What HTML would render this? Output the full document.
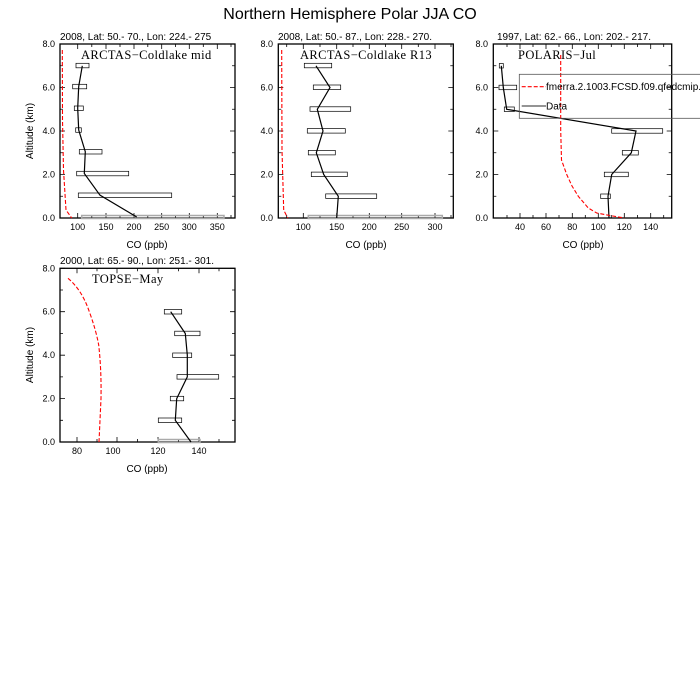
<!DOCTYPE html>
<html><head><meta charset="utf-8"><style>
body{margin:0;background:#fff}
svg{display:block;font-family:"Liberation Sans",sans-serif}
.t{font-size:9px;fill:#000}
.s{font-size:10px}
.p{font-family:"Liberation Serif",serif;font-size:12.5px;letter-spacing:0.4px}
.fr{fill:none;stroke:#000;stroke-width:1.3}
.bx{fill:none;stroke:#000;stroke-width:0.7}
.gb{fill:none;stroke:#aaa;stroke-width:1.5}
.ln{fill:none;stroke:#000;stroke-width:1.2}
.rd{fill:none;stroke:#f00;stroke-width:1.1;stroke-dasharray:4,2}
.tk{stroke:#000;stroke-width:0.8}
</style></head><body>
<svg width="700" height="700" viewBox="0 0 700 700">
<text x="350" y="19" text-anchor="middle" font-size="16">Northern Hemisphere Polar JJA CO</text>

<!-- Panel 1 -->
<g>
<text x="60" y="40" class="s">2008, Lat:  50.- 70., Lon: 224.- 275</text>
<rect x="60" y="44" width="175" height="174" class="fr"/>
<path class="tk" d="M60 44h5M60 65.75h3M60 87.5h5M60 109.25h3M60 131h5M60 152.75h3M60 174.5h5M60 196.25h3M235 44h-5M235 65.75h-3M235 87.5h-5M235 109.25h-3M235 131h-5M235 152.75h-3M235 174.5h-5M235 196.25h-3M77.7 218v-5M106 218v-5M134 218v-5M161.7 218v-5M189.3 218v-5M217.3 218v-5M77.7 44v5M106 44v5M134 44v5M161.7 44v5M189.3 44v5M217.3 44v5M91.8 218v-3M120 218v-3M147.8 218v-3M175.5 218v-3M203.3 218v-3M231 218v-3M91.8 44v3M120 44v3M147.8 44v3M175.5 44v3M203.3 44v3M231 44v3"/>
<g class="t" text-anchor="end"><text x="55" y="47">8.0</text><text x="55" y="90.5">6.0</text><text x="55" y="134">4.0</text><text x="55" y="177.5">2.0</text><text x="55" y="221">0.0</text></g>
<g class="t" text-anchor="middle"><text x="77.7" y="230">100</text><text x="106" y="230">150</text><text x="134" y="230">200</text><text x="161.7" y="230">250</text><text x="189.3" y="230">300</text><text x="217.3" y="230">350</text></g>
<text x="147" y="248" text-anchor="middle" font-size="10">CO (ppb)</text>
<text transform="translate(33,131) rotate(-90)" text-anchor="middle" font-size="10">Altitude (km)</text>
<text x="81" y="59" class="p">ARCTAS−Coldlake mid</text>
<rect x="76" y="63.3" width="13" height="4.5" class="bx"/>
<rect x="72.7" y="84.3" width="14" height="4.5" class="bx"/>
<rect x="74.3" y="106" width="9" height="4.5" class="bx"/>
<rect x="75.7" y="127.8" width="5.6" height="4.5" class="bx"/>
<rect x="79.3" y="149.5" width="22.7" height="4.5" class="bx"/>
<rect x="76.7" y="171.3" width="52" height="4.5" class="bx"/>
<rect x="78.3" y="193" width="93.4" height="4.5" class="bx"/>
<rect x="81.7" y="215.5" width="142.3" height="3" class="gb"/>
<polyline class="ln" points="82.3,65.8 78.7,86.5 77.7,108.2 78.7,130 85.3,151.7 84.3,173.5 100,195.2 136.7,217"/>
<polyline class="rd" points="62.3,50 62.5,120 63.5,170 66,210 71.7,218"/>
</g>

<!-- Panel 2 -->
<g>
<text x="278" y="40" class="s">2008, Lat:  50.- 87., Lon: 228.- 270.</text>
<rect x="278.3" y="44" width="175" height="174" class="fr"/>
<path class="tk" d="M278.3 44h5M278.3 65.75h3M278.3 87.5h5M278.3 109.25h3M278.3 131h5M278.3 152.75h3M278.3 174.5h5M278.3 196.25h3M453.3 44h-5M453.3 65.75h-3M453.3 87.5h-5M453.3 109.25h-3M453.3 131h-5M453.3 152.75h-3M453.3 174.5h-5M453.3 196.25h-3M303.3 218v-5M336.7 218v-5M369.3 218v-5M401.7 218v-5M435 218v-5M303.3 44v5M336.7 44v5M369.3 44v5M401.7 44v5M435 44v5M286.7 218v-3M320 218v-3M353 218v-3M385.5 218v-3M418.3 218v-3M451 218v-3M286.7 44v3M320 44v3M353 44v3M385.5 44v3M418.3 44v3M451 44v3"/>
<g class="t" text-anchor="end"><text x="273" y="47">8.0</text><text x="273" y="90.5">6.0</text><text x="273" y="134">4.0</text><text x="273" y="177.5">2.0</text><text x="273" y="221">0.0</text></g>
<g class="t" text-anchor="middle"><text x="303.3" y="230">100</text><text x="336.7" y="230">150</text><text x="369.3" y="230">200</text><text x="401.7" y="230">250</text><text x="435" y="230">300</text></g>
<text x="366" y="248" text-anchor="middle" font-size="10">CO (ppb)</text>
<text x="300" y="59" class="p">ARCTAS−Coldlake R13</text>
<rect x="304.3" y="63.3" width="27.4" height="4.5" class="bx"/>
<rect x="313.3" y="85" width="27.4" height="4.5" class="bx"/>
<rect x="310" y="106.8" width="40.7" height="4.5" class="bx"/>
<rect x="307.3" y="128.6" width="38" height="4.5" class="bx"/>
<rect x="308.3" y="150.4" width="27" height="4.5" class="bx"/>
<rect x="311.3" y="172.1" width="36" height="4.5" class="bx"/>
<rect x="325.7" y="193.9" width="51" height="4.5" class="bx"/>
<rect x="308.3" y="215.5" width="134" height="3" class="gb"/>
<polyline class="ln" points="316,65.8 330,87.5 317.3,109.3 323,131 316.3,152.8 323.7,174.5 338.3,196.3 336.7,218"/>
<polyline class="rd" points="281.7,50 282,150 283.7,210 287.7,218"/>
</g>

<!-- Panel 3 -->
<g>
<text x="497" y="40" class="s">1997, Lat: 62.- 66., Lon: 202.- 217.</text>
<rect x="493.3" y="44" width="178.4" height="174" class="fr"/>
<path class="tk" d="M493.3 44h5M493.3 65.75h3M493.3 87.5h5M493.3 109.25h3M493.3 131h5M493.3 152.75h3M493.3 174.5h5M493.3 196.25h3M671.7 44h-5M671.7 65.75h-3M671.7 87.5h-5M671.7 109.25h-3M671.7 131h-5M671.7 152.75h-3M671.7 174.5h-5M671.7 196.25h-3M520 218v-5M546 218v-5M572.3 218v-5M598.3 218v-5M624.3 218v-5M650.7 218v-5M520 44v5M546 44v5M572.3 44v5M598.3 44v5M624.3 44v5M650.7 44v5M507 218v-3M533 218v-3M559 218v-3M585.3 218v-3M611.3 218v-3M637.5 218v-3M663.7 218v-3M507 44v3M533 44v3M559 44v3M585.3 44v3M611.3 44v3M637.5 44v3M663.7 44v3"/>
<g class="t" text-anchor="end"><text x="488" y="47">8.0</text><text x="488" y="90.5">6.0</text><text x="488" y="134">4.0</text><text x="488" y="177.5">2.0</text><text x="488" y="221">0.0</text></g>
<g class="t" text-anchor="middle"><text x="520" y="230">40</text><text x="546" y="230">60</text><text x="572.3" y="230">80</text><text x="598.3" y="230">100</text><text x="624.3" y="230">120</text><text x="650.7" y="230">140</text></g>
<text x="583" y="248" text-anchor="middle" font-size="10">CO (ppb)</text>
<text x="518" y="59" class="p">POLARIS−Jul</text>
<rect x="499.3" y="63.5" width="4" height="4.5" class="bx"/>
<rect x="499" y="85.2" width="17.7" height="4.5" class="bx"/>
<rect x="504.3" y="107" width="10" height="4.5" class="bx"/>
<rect x="611.7" y="128.7" width="51" height="4.5" class="bx"/>
<rect x="622.3" y="150.5" width="16" height="4.5" class="bx"/>
<rect x="604.3" y="172.2" width="24" height="4.5" class="bx"/>
<rect x="600.7" y="194" width="9.6" height="4.5" class="bx"/>
<polyline class="ln" points="501.3,65.8 503.3,87.5 506.7,109.3 636,131 631.3,152.8 611.7,174.5 608,196.3 609,218"/>
<polyline class="rd" points="560.7,55 560.7,130 561.5,160 566.7,174.5 572,186 578.3,196.3 588.3,208 596.7,213 610,215.5 624.3,218"/>
<rect x="519.3" y="74.3" width="185" height="44" fill="none" stroke="#555" stroke-width="0.8"/>
<line x1="521.7" y1="86.7" x2="546" y2="86.7" class="rd"/>
<line x1="521.7" y1="106" x2="546" y2="106" stroke="#555" stroke-width="1.2"/>
<text x="546" y="90" font-size="10">fmerra.2.1003.FCSD.f09.qfedcmip.</text>
<text x="546" y="109.5" font-size="10">Data</text>
</g>

<!-- Panel 4 -->
<g>
<text x="60" y="264" class="s">2000, Lat: 65.- 90., Lon: 251.- 301.</text>
<rect x="60" y="268.3" width="175" height="173.7" class="fr"/>
<path class="tk" d="M60 268.3h5M60 290h3M60 311.7h5M60 333.4h3M60 355.2h5M60 376.9h3M60 398.6h5M60 420.3h3M235 268.3h-5M235 290h-3M235 311.7h-5M235 333.4h-3M235 355.2h-5M235 376.9h-3M235 398.6h-5M235 420.3h-3M77 442v-5M117 442v-5M158 442v-5M199 442v-5M77 268.3v5M117 268.3v5M158 268.3v5M199 268.3v5M97 442v-3M137.5 442v-3M178.5 442v-3M219 442v-3M97 268.3v3M137.5 268.3v3M178.5 268.3v3M219 268.3v3"/>
<g class="t" text-anchor="end"><text x="55" y="271.3">8.0</text><text x="55" y="314.7">6.0</text><text x="55" y="358.2">4.0</text><text x="55" y="401.6">2.0</text><text x="55" y="445">0.0</text></g>
<g class="t" text-anchor="middle"><text x="77" y="454">80</text><text x="113" y="454">100</text><text x="158" y="454">120</text><text x="199" y="454">140</text></g>
<text x="147" y="472" text-anchor="middle" font-size="10">CO (ppb)</text>
<text transform="translate(33,355) rotate(-90)" text-anchor="middle" font-size="10">Altitude (km)</text>
<text x="92" y="283" class="p">TOPSE−May</text>
<rect x="164.3" y="309.5" width="17.4" height="4.5" class="bx"/>
<rect x="174.7" y="331.2" width="25.3" height="4.5" class="bx"/>
<rect x="172.7" y="353" width="19" height="4.5" class="bx"/>
<rect x="177" y="374.6" width="41.7" height="4.5" class="bx"/>
<rect x="170.3" y="396.3" width="13.4" height="4.5" class="bx"/>
<rect x="158.3" y="418" width="23.4" height="4.5" class="bx"/>
<rect x="158.3" y="439.5" width="41.7" height="3" class="gb"/>
<polyline class="ln" points="170.7,311.7 185.3,333.5 187.3,355.2 187.3,376.9 176.7,398.6 175.3,420.3 191,442"/>
<path class="rd" d="M68 278.3 Q82 290 89.3 311.7 Q96 330 98.7 345 Q101.5 370 101 398.6 L99 442"/>
</g>
</svg>
</body></html>
